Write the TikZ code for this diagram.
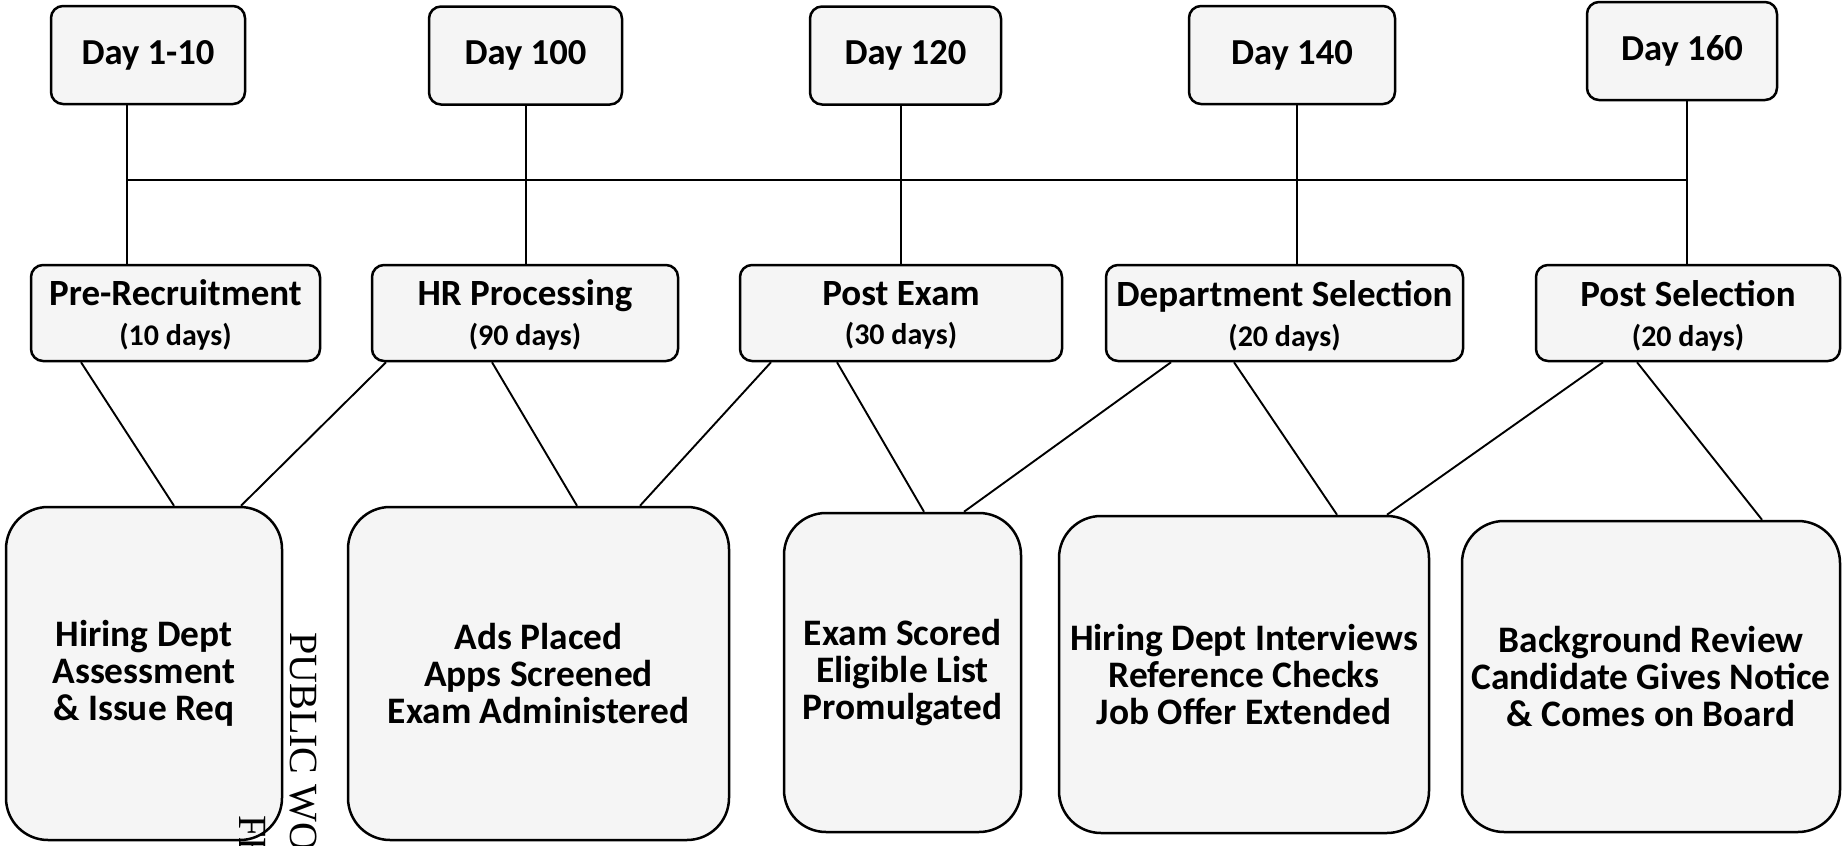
\documentclass[tikz,border=0pt]{standalone}
\usepackage{fontspec}
\setmainfont{Carlito}
\newfontfamily\scanserif{Liberation Serif}
\begin{document}
\begin{tikzpicture}[x=0.5pt,y=-0.5pt,
  box/.style={draw=black, line width=1.25pt, fill=black!4, rounded corners=6pt, inner sep=0pt, align=center, text=black},
  daybox/.style={box, minimum height=49pt, font={\fontsize{18.3}{20}\selectfont\bfseries}},
  phasebox/.style={box, minimum height=48pt, text depth=-1pt, font={\fontsize{18.5}{20}\selectfont\bfseries}},
  taskbox/.style={box, rounded corners=21pt, font={\fontsize{18.7}{18.5}\selectfont\bfseries\lineskiplimit=-30pt}},
  link/.style={draw=black, line width=0.95pt},
  scan/.style={font={\fontsize{20}{24}\selectfont\scanserif}, rotate=-90, anchor=base west, inner sep=0pt, text=black}
]
\useasboundingbox (0,0) rectangle (1843,846);
\fill[white] (0,0) rectangle (1843,846);
\clip (0,0) rectangle (1843,846);

% day boxes
\node[daybox, minimum width=97pt]   (d1) at (148,55)   {Day 1-10};
\node[daybox, minimum width=96.5pt] (d2) at (525.5,55.5) {Day 100};
\node[daybox, minimum width=95.5pt] (d3) at (905.5,55.5) {Day 120};
\node[daybox, minimum width=103pt]  (d4) at (1292,55)  {Day 140};
\node[daybox, minimum width=95pt]   (d5) at (1682,51)  {Day 160};

% phase boxes
\node[phasebox, minimum width=144.5pt] (m1) at (175.5,313) {Pre-Recruitment\\{\fontsize{15}{20}\selectfont (10 days)}};
\node[phasebox, minimum width=153pt]   (m2) at (525,313)   {HR Processing\\{\fontsize{15}{20}\selectfont (90 days)}};
\node[phasebox, minimum width=161pt]   (m3) at (901,313)   {Post Exam\\{\fontsize{15}{20}\selectfont (30 days)}};
\node[phasebox, minimum width=178.5pt] (m4) at (1284.5,313){Department Selection\\{\fontsize{15}{20}\selectfont (20 days)}};
\node[phasebox, minimum width=152pt]   (m5) at (1688,313)  {Post Selection\\{\fontsize{15}{20}\selectfont (20 days)}};

% task boxes
\node[taskbox, minimum width=138pt,   minimum height=166.5pt] (b1) at (144,673.5)   {Hiring Dept\\Assessment\\\& Issue Req};
\node[taskbox, minimum width=190.5pt, minimum height=166.5pt] (b2) at (538.5,673.5) {Ads Placed\\Apps Screened\\Exam Administered};
\node[taskbox, minimum width=118.5pt, minimum height=159.5pt] (b3) at (902.5,672.5) {Exam Scored\\Eligible List\\Promulgated};
\node[taskbox, minimum width=185pt,   minimum height=158.5pt] (b4) at (1244,674.5)  {Hiring Dept Interviews\\Reference Checks\\Job Offer Extended};
\node[taskbox, minimum width=189pt,   minimum height=155.5pt] (b5) at (1651,676.5)  {Background Review\\Candidate Gives Notice\\\& Comes on Board};

% timeline bus
\coordinate (j1) at (127,180);
\coordinate (j2) at (526,180);
\coordinate (j3) at (901,180);
\coordinate (j4) at (1297,180);
\coordinate (j5) at (1687,180);
\draw[link] (j1) -- (j5);
\draw[link] (d1.south -| j1) -- (m1.north -| j1);
\draw[link] (d2.south -| j2) -- (m2.north -| j2);
\draw[link] (d3.south -| j3) -- (m3.north -| j3);
\draw[link] (d4.south -| j4) -- (m4.north -| j4);
\draw[link] (d5.south -| j5) -- (m5.north -| j5);

% phase to task links
\draw[link] (m1.south -| 81,0)   -- (b1.north -| 174,0);
\draw[link] (m2.south -| 386,0)  -- (b1.north -| 241,0);
\draw[link] (m2.south -| 492,0)  -- (b2.north -| 577,0);
\draw[link] (m3.south -| 771,0)  -- (b2.north -| 640,0);
\draw[link] (m3.south -| 837,0)  -- (b3.north -| 924,0);
\draw[link] (m4.south -| 1171,0) -- (b3.north -| 964,0);
\draw[link] (m4.south -| 1234,0) -- (b4.north -| 1337,0);
\draw[link] (m5.south -| 1603,0) -- (b4.north -| 1387,0);
\draw[link] (m5.south -| 1637,0) -- (b5.north -| 1762,0);

% stray scanned text
\node[scan] (pw) at (290,632) {PUBLIC WOR};
\node[scan] (fe) at (239,815) {FE};
\end{tikzpicture}
\end{document}
